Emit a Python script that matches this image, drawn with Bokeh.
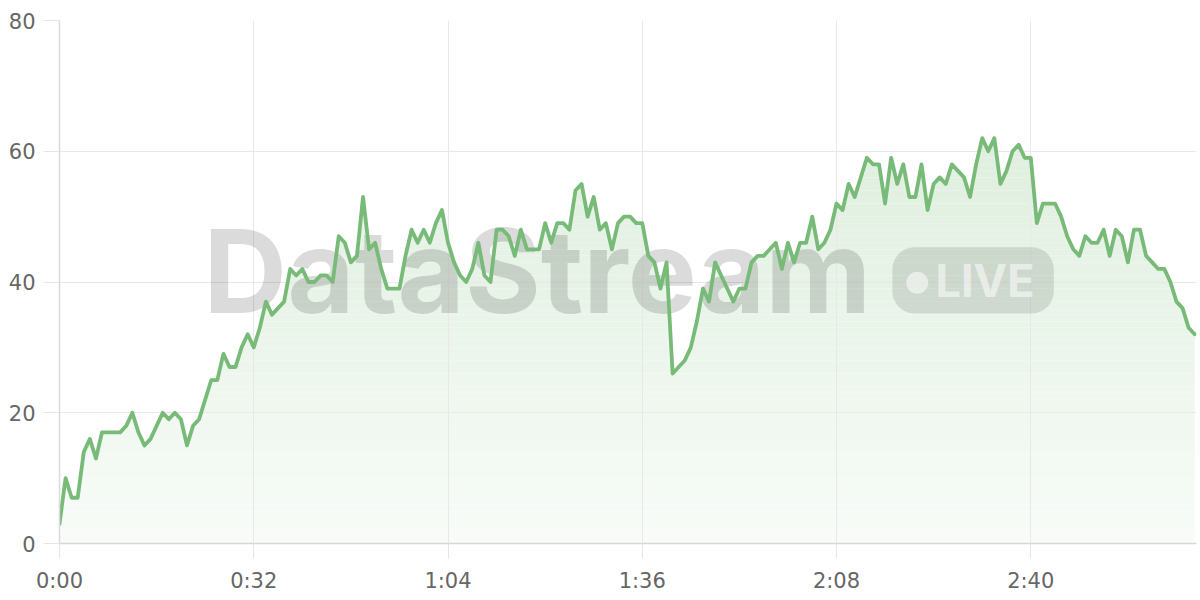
from bokeh.plotting import figure
from bokeh.models import Range1d, FixedTicker, BoxAnnotation, ColumnDataSource
from bokeh.core.properties import value
from bokeh.embed import file_html
from bokeh.resources import INLINE
import numpy as np

# ---- data ----
seconds = list(range(188))
values = [3, 10, 7, 7, 14, 16, 13, 17, 17, 17,
          17, 18, 20, 17, 15, 16, 18, 20, 19, 20,
          19, 15, 18, 19, 22, 25, 25, 29, 27, 27,
          30, 32, 30, 33, 37, 35, 36, 37, 42, 41,
          42, 40, 40, 41, 41, 40, 47, 46, 43, 44,
          53, 45, 46, 42, 39, 39, 39, 44, 48, 46,
          48, 46, 49, 51, 46, 43, 41, 40, 42, 46,
          41, 40, 48, 48, 47, 44, 48, 45, 45, 45,
          49, 46, 49, 49, 48, 54, 55, 50, 53, 48,
          49, 45, 49, 50, 50, 49, 49, 44, 43, 39,
          43, 26, 27, 28, 30, 34, 39, 37, 43, 41,
          39, 37, 39, 39, 43, 44, 44, 45, 46, 42,
          46, 43, 46, 46, 50, 45, 46, 48, 52, 51,
          55, 53, 56, 59, 58, 58, 52, 59, 55, 58,
          53, 53, 58, 51, 55, 56, 55, 58, 57, 56,
          53, 58, 62, 60, 62, 55, 57, 60, 61, 59,
          59, 49, 52, 52, 52, 50, 47, 45, 44, 47,
          46, 46, 48, 44, 48, 47, 43, 48, 48, 44,
          43, 42, 42, 40, 37, 36, 33, 32]

x_ticks = [0, 32, 64, 96, 128, 160]
x_tick_labels = ["0:00", "0:32", "1:04", "1:36", "2:08", "2:40"]
y_ticks = [0, 20, 40, 60, 80]

watermark_text = "DataStream"
badge_text = "LIVE"

# ---- figure ----
LINE_RGB = (120, 187, 120)
LINE = "#78bb78"
FONT = "Inter"
TICK_FONT = "DejaVu Sans"

p = figure(width=1198, height=598,
           x_range=Range1d(0, 187.3), y_range=Range1d(0, 80),
           output_backend="svg", toolbar_location=None,
           min_border_left=59, min_border_right=2,
           min_border_top=20, min_border_bottom=55)
p.outline_line_color = None
p.background_fill_color = "white"
p.border_fill_color = "white"

# axes
p.xaxis.ticker = FixedTicker(ticks=x_ticks)
p.xaxis.major_label_overrides = {t: l for t, l in zip(x_ticks, x_tick_labels)}
p.yaxis.ticker = FixedTicker(ticks=y_ticks)
for ax in (p.xaxis, p.yaxis):
    ax.minor_tick_line_color = None
    ax.major_tick_in = 0
    ax.major_tick_line_color = "#e6e6e6"
    ax.major_tick_line_width = 1
    ax.major_label_text_font = TICK_FONT
    ax.major_label_text_font_size = "21px"
    ax.major_label_text_color = "#666666"
p.xaxis.axis_line_color = "#d6d6d6"
p.xaxis.axis_line_width = 1.5
p.xaxis.major_tick_out = 15
p.xaxis.major_label_standoff = 10
p.yaxis.axis_line_color = "#dadada"
p.yaxis.axis_line_width = 1.5
p.yaxis.major_tick_out = 16
p.yaxis.major_label_standoff = 8

p.xgrid.grid_line_color = "#e8e8e8"
p.ygrid.grid_line_color = "#e8e8e8"
p.xgrid.grid_line_width = 1
p.ygrid.grid_line_width = 1

# ---- gradient-like area fill (opaque bands under the grid) ----
vals = np.array(values, dtype=float)


def band_color(v):
    a = 0.05 + 0.19 * min(v, 62) / 62.0
    return "#%02x%02x%02x" % tuple(int(round(255 - a * (255 - c))) for c in LINE_RGB)


for lvl in range(0, 64):
    lo = np.minimum(vals, lvl)
    hi = np.minimum(vals, lvl + 1)
    p.varea(x=seconds, y1=lo, y2=hi, fill_color=band_color(lvl + 0.5),
            fill_alpha=1.0, level="image")

# ---- watermark ----
badge = BoxAnnotation(left=137.2, right=163.8, bottom=35.2, top=45.3,
                      fill_color="black", fill_alpha=0.11, line_color=None,
                      border_radius=22, level="underlay")
p.add_layout(badge)

p.text(x=[23.7], y=[41.7], text=[watermark_text], text_font=value(FONT),
       text_font_size="116px", text_font_style="bold",
       text_color="black", text_alpha=0.14,
       text_align="left", text_baseline="alphabetic")
p.scatter(x=[141.3], y=[39.9], size=22, marker="circle",
          fill_color="white", fill_alpha=0.55, line_color=None)
p.text(x=[144.3], y=[40.3], text=[badge_text], text_font=value(FONT),
       text_font_size="45px", text_font_style="bold",
       text_color="white", text_alpha=0.55,
       text_align="left", text_baseline="alphabetic")

# ---- line ----
src = ColumnDataSource(dict(x=seconds, y=values))
p.line(x="x", y="y", source=src, line_color=LINE, line_width=3.8,
       line_join="round", line_cap="round")

open("out.html", "w").write(file_html(p, INLINE))
